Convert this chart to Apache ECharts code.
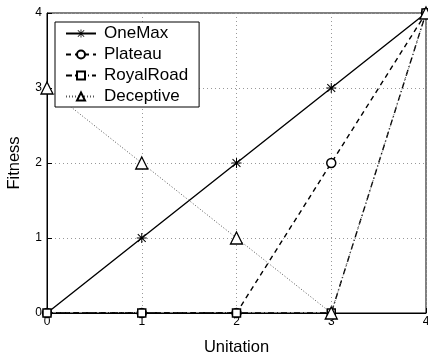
<!DOCTYPE html>
<html><head><meta charset="utf-8">
<script src="https://cdn.jsdelivr.net/npm/echarts@6/dist/echarts.min.js"></script>
<style>html,body{margin:0;padding:0;background:#fff}#c{width:428px;height:357px}</style>
</head><body><div id="c"></div>
<script>
var unitation = [0, 1, 2, 3, 4];
var oneMax = [0, 1, 2, 3, 4];
var plateau = [0, 0, 0, 2, 4];
var royalRoad = [0, 0, 0, 0, 4];
var deceptive = [3, 2, 1, 0, 4];
var seriesNames = ['OneMax', 'Plateau', 'RoyalRoad', 'Deceptive'];

var star = 'path://M0 9L20 9L20 11L0 11Z M9 0L11 0L11 20L9 20Z M1.4 2.8L2.8 1.4L18.6 17.2L17.2 18.6Z M17.2 1.4L18.6 2.8L2.8 18.6L1.4 17.2Z';
function pts(arr){ return unitation.map(function(x,i){ return [x, arr[i]]; }); }
var font = 'Liberation Sans';
var chart = echarts.init(document.getElementById('c'));
chart.setOption({
  animation: false,
  grid: { left: 47, right: 2, top: 13, bottom: 44, outerBoundsMode: 'none', containLabel: false,
          show: true, borderColor: '#000', borderWidth: 1 },
  legend: {
    left: 55, top: 22, orient: 'vertical', itemWidth: 30, itemHeight: 10, itemGap: 4,
    padding: [3, 11, 2, 10],
    borderColor: '#000', borderWidth: 1, backgroundColor: '#fff',
    textStyle: { fontFamily: font, fontSize: 17, color: '#000', padding: [0, 0, 0, 3] },
    data: seriesNames
  },
  xAxis: {
    type: 'value', min: 0, max: 4, interval: 1,
    name: 'Unitation', nameLocation: 'middle', nameGap: 26,
    nameTextStyle: { fontFamily: font, fontSize: 16.5, color: '#000' },
    axisLine: { lineStyle: { color: '#000' } },
    axisTick: { inside: true, length: 5, lineStyle: { color: '#000' } },
    axisLabel: { fontFamily: font, fontSize: 12, color: '#000', margin: 3 },
    splitLine: { show: true, lineStyle: { color: '#999', type: [1, 3] } }
  },
  yAxis: {
    type: 'value', min: 0, max: 4, interval: 1,
    name: 'Fitness', nameLocation: 'middle', nameGap: 24,
    nameTextStyle: { fontFamily: font, fontSize: 16.5, color: '#000' },
    axisLine: { lineStyle: { color: '#000' } },
    axisTick: { inside: true, length: 5, lineStyle: { color: '#000' } },
    axisLabel: { fontFamily: font, fontSize: 12, color: '#000', margin: 5 },
    splitLine: { show: true, lineStyle: { color: '#999', type: [1, 3] } }
  },
  series: [
    { name: seriesNames[0], type: 'line', data: pts(oneMax), symbol: star, symbolSize: 10,
      lineStyle: { color: '#000', width: 1.4, type: 'solid' }, itemStyle: { color: '#000' } },
    { name: seriesNames[1], type: 'line', data: pts(plateau), symbol: 'circle', symbolSize: 9,
      lineStyle: { color: '#000', width: 1.4, type: [5, 4] }, itemStyle: { color: '#fff', borderColor: '#000', borderWidth: 1.5 } },
    { name: seriesNames[2], type: 'line', data: pts(royalRoad), symbol: 'rect', symbolSize: 8,
      lineStyle: { color: '#000', width: 1.4, type: [6, 3, 1, 3] }, itemStyle: { color: '#fff', borderColor: '#000', borderWidth: 1.5 } },
    { name: seriesNames[3], type: 'line', data: pts(deceptive), symbol: 'triangle', symbolSize: 12,
      lineStyle: { color: '#555', width: 1, type: [1, 2] }, itemStyle: { color: '#fff', borderColor: '#000', borderWidth: 1.3 } }
  ]
});
</script></body></html>
